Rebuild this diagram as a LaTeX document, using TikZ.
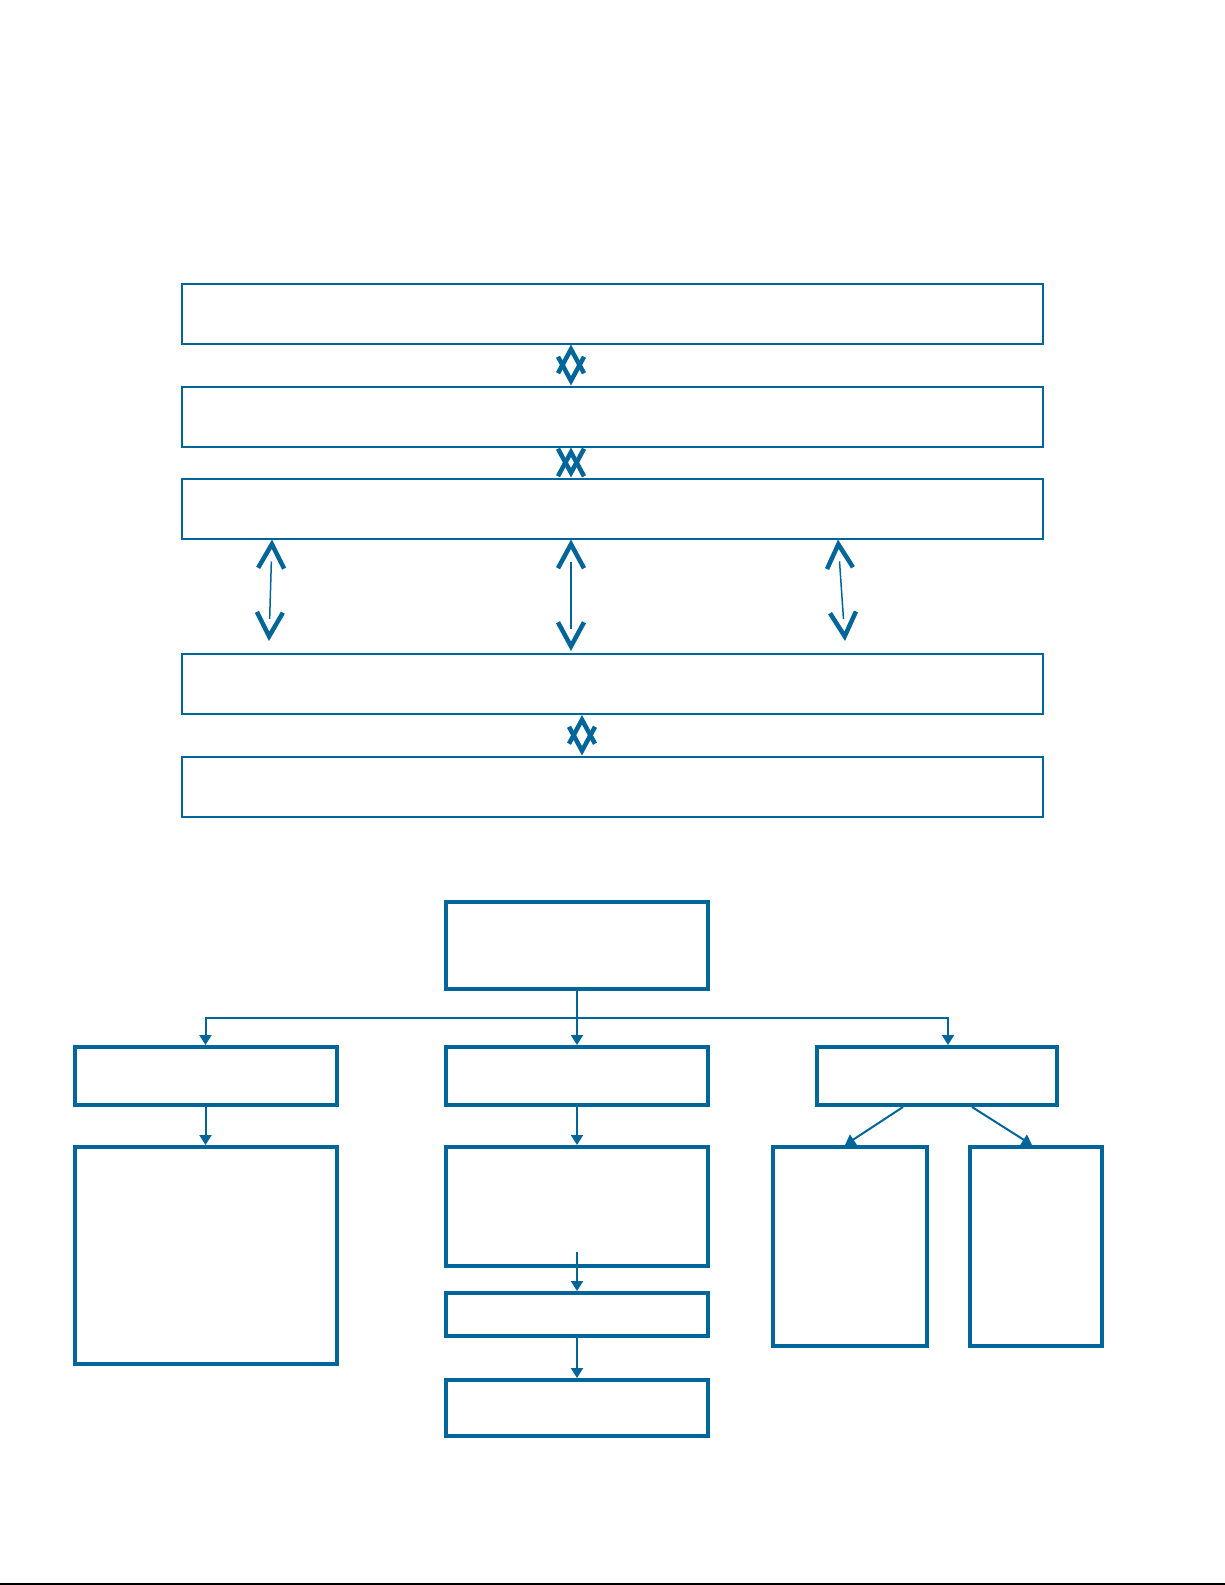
\documentclass[tikz,border=0pt]{standalone}
\usetikzlibrary{arrows.meta,calc}

\definecolor{flowblue}{RGB}{0,102,153}

\begin{document}
\begin{tikzpicture}[
  x=1pt, y=-1pt,
  layer/.style={draw=flowblue, line width=2pt, minimum width=861pt, minimum height=60pt, inner sep=0pt},
  blk/.style={draw=flowblue, line width=4pt, inner sep=0pt},
  conn/.style={draw=flowblue, line width=2pt, -{Triangle[width=12pt,length=10pt]}},
  chev/.style={draw=white, line width=0.5pt, {Straight Barb[length=24pt,width=26pt,line width=4.5pt,color=flowblue]}-{Straight Barb[length=24pt,width=26pt,line width=4.5pt,color=flowblue]}},
  shaft/.style={draw=flowblue, line width=1.5pt, shorten <=22pt, shorten >=22pt}
]
\useasboundingbox (0,0) rectangle (1225,1585);

%================================================
% TOP:  stacked layers
%================================================
\node[layer] (t1) at (612.5,313.5) {};
\node[layer] (t2) at (612.5,416.5) {};
\node[layer] (t3) at (612.5,508.5) {};
\node[layer] (t4) at (612.5,684) {};
\node[layer] (t5) at (612.5,786.5) {};

% short double heads between neighbours
\draw[chev] ($(t1.south)+(-41.5,0)$) -- ($(t2.north)+(-41.5,0)$);
\draw[chev] ($(t2.south)+(-41.5,0)$) -- ($(t3.north)+(-41.5,0)$);
\draw[chev] ($(t4.south)+(-30.5,0)$) -- ($(t5.north)+(-30.5,0)$);

% long links t3 <-> t4
\coordinate (aL) at ($(t3.south)+(-340.5,0)$);
\coordinate (bL) at ($(t4.north)+(-343.5,-12)$);
\coordinate (aM) at ($(t3.south)+(-41.5,0)$);
\coordinate (bM) at ($(t4.north)+(-41.5,-2)$);
\coordinate (aR) at ($(t3.south)+(225.5,0)$);
\coordinate (bR) at ($(t4.north)+(232.5,-12)$);

\foreach \s in {L,M,R}{
  \draw[chev] (a\s) -- (b\s);
  \draw[shaft] (a\s) -- (b\s);
}

%================================================
% BOTTOM:  tree
%================================================
\node[blk, minimum width=262pt, minimum height=87pt] (root) at (577,945.5) {};

\node[blk, minimum width=262pt, minimum height=58pt] (ls) at (205.5,1076) {};
\node[blk, minimum width=262pt, minimum height=58pt] (ms) at (577,1076) {};
\node[blk, minimum width=240pt, minimum height=58pt] (rs) at (937,1076) {};

\node[blk, minimum width=262pt, minimum height=217pt] (lb) at (205.5,1255.5) {};
\node[blk, minimum width=262pt, minimum height=119pt] (mb) at (577,1206.5) {};
\node[blk, minimum width=154pt, minimum height=199pt] (ra) at (850,1246.5) {};
\node[blk, minimum width=132pt, minimum height=199pt] (rb) at (1036,1246.5) {};

\node[blk, minimum width=262pt, minimum height=43pt] (m4) at (577,1314.5) {};
\node[blk, minimum width=262pt, minimum height=56pt] (m5) at (577,1408) {};

\coordinate (split) at ($(root.south)!0.5!(ms.north)$);

\draw[draw=flowblue, line width=2pt] (root.south) -- (split);
\draw[conn] (split) -| (ls.north);
\draw[conn] (split) -- (ms.north);
\draw[conn] (split) -| ($(rs.north)+(11,0)$);

\draw[conn] (ls.south) -- (lb.north);
\draw[conn] (ms.south) -- (mb.north);
\draw[conn] ($(rs.south)+(-34,0)$) -- ($(ra.north)+(-5,0)$);
\draw[conn] ($(rs.south)+(35,0)$) -- ($(rb.north)+(-4,0)$);

\draw[conn] ($(mb.south)+(0,-16)$) -- (m4.north);
\draw[conn] (m4.south) -- (m5.north);

% page rule
\draw[black, line width=1.3pt] (0,1584) -- (1225,1584);

\end{tikzpicture}
\end{document}
